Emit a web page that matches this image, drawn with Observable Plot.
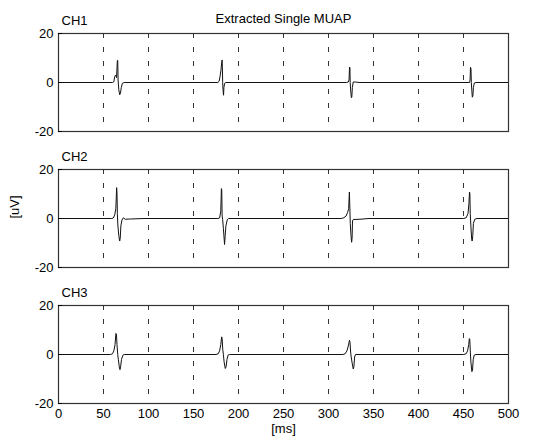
<!DOCTYPE html>
<html><head><meta charset="utf-8">
<script src="https://cdn.jsdelivr.net/npm/d3@7"></script>
<script src="https://cdn.jsdelivr.net/npm/@observablehq/plot@0.6"></script>
<style>body{margin:0;background:#fff}</style>
</head><body><div id="chart"></div>
<script>
const titleText = "Extracted Single MUAP";
const xLabel = "[ms]";
const yLabel = "[uV]";
const channels = ["CH1", "CH2", "CH3"];
const xTicks = [0, 50, 100, 150, 200, 250, 300, 350, 400, 450, 500];
const gridX = [50, 100, 150, 200, 250, 300, 350, 400, 450];
const yTicks = [-20, 0, 20];

// [time ms, amplitude uV]
const ch1 = [[0,0],[60,0],[61.5,0.3],[62.5,2.5],[63.5,3],[64.5,2],[65.4,9],[65.8,9],[66.2,1],[67,-3],[68,-5],[68.8,-4.5],[69.8,-2],[71,-0.3],[73,0],
  [177,0],[178.5,0.5],[179.5,2.5],[180.5,5],[181.3,8],[181.8,9.2],[182.1,6],[182.4,0],[182.8,-3],[183.4,-5.2],[183.8,-2],[184.6,-0.3],[186,0],
  [320,0],[322,0.2],[322.8,1],[323.4,6.3],[323.8,6],[324.1,0],[324.6,-3],[325.4,-6.2],[325.9,-6],[326.5,-2],[327.5,0.2],[330,0.2],[334,0],
  [455,0],[456.8,0],[457.3,1],[457.8,6.2],[458.3,5.5],[458.7,0],[459.2,-3],[459.8,-6],[460.4,-5.5],[461,-2],[462,-0.2],[464,0],[500,0]];
const ch2 = [[0,0],[59,0],[61,0.2],[62.5,1.5],[63.7,4],[64.6,12.6],[65,10],[65.4,2],[66,-3],[67,-7],[68,-9.2],[68.6,-8],[69.3,-3],[70.5,-0.6],[72,0.3],[74,-0.3],[80,-0.2],[95,0],
  [177,0],[179,0.2],[180.3,3],[181,12.2],[181.4,11.5],[181.8,1],[182.4,-0.5],[183.2,-4],[184.5,-10.6],[185.2,-7],[186,-3],[187.5,-0.5],[189,0],
  [314,0],[317,0.3],[319.5,1],[321.2,2.5],[322.4,4],[323.2,10.8],[323.6,6],[324.2,-2],[325,-7],[325.7,-9.7],[326.2,-8],[326.7,-1],[327.5,-0.4],[335,-0.3],[345,0],
  [450,0],[453,0.3],[455,2],[456,6],[456.7,10.8],[457.1,10],[457.5,2],[458.2,-3],[459,-8],[459.6,-9.2],[460.3,-7],[461,-2],[462.5,-0.3],[465,0],[500,0]];
const ch3 = [[0,0],[58,0],[60,0.3],[61.5,1.5],[62.8,4],[63.8,8.6],[64.4,8.2],[65,4],[65.8,0],[66.5,-2],[67.5,-5],[68.3,-6.2],[69,-5],[70,-2],[71.5,-0.3],[73,0],
  [175,0],[177.5,0.3],[179,1.5],[180.3,4],[181.3,7.2],[181.8,6.5],[182.5,2],[183.2,0],[184,-3],[185.3,-5.7],[186.2,-5],[187.2,-2],[188.5,-0.2],[190,0],
  [316,0],[318.5,0.3],[320.5,1.5],[322,3.5],[323.3,5.8],[323.9,5],[324.6,1],[325.2,-1],[326.3,-3.5],[327.5,-5.9],[328.2,-5],[329,-1],[330,0],
  [450,0],[453,0.3],[454.5,1.5],[455.8,4],[456.5,6.5],[457,6],[457.6,1],[458.2,-3],[459.3,-7],[460,-6.5],[460.8,-2],[462,-0.2],[464,0],[500,0]];

const series = [ch1, ch2, ch3];
const data = channels.flatMap((ch, i) => series[i].map(([t, v]) => ({ch, t, v})));

const font = "'Liberation Sans', Arial, Helvetica, sans-serif";
const fmt = d => String(d);
const chart = Plot.plot({
  width: 541,
  height: 441,
  marginLeft: 58,
  marginRight: 33,
  marginTop: 33,
  marginBottom: 38,
  style: {fontFamily: font, fontSize: "13px", color: "#000", background: "#fff", overflow: "visible"},
  x: {domain: [0, 500], label: null},
  y: {domain: [-20, 20], label: null},
  fy: {domain: channels, paddingInner: 0.28, paddingOuter: 0, axis: null, label: null},
  marks: [
    Plot.ruleX(gridX, {stroke: "#000", strokeWidth: 0.8, strokeDasharray: "5,9"}),
    Plot.line(data, {x: "t", y: "v", fy: "ch", stroke: "#111", strokeWidth: 1}),
    Plot.frame({stroke: "#333", strokeWidth: 1.2}),
    Plot.axisY({ticks: yTicks, tickFormat: fmt, tickSize: -4, tickPadding: 9, fontSize: 13, label: null}),
    Plot.axisX({ticks: xTicks, tickFormat: fmt, tickSize: 0, tickPadding: 5, fontSize: 13, label: null}),
    Plot.text(channels, {fy: d => d, text: d => d, frameAnchor: "top-left", textAnchor: "start", dx: 3, dy: -18, fontSize: 13}),
    Plot.text([titleText], {facet: "super", frameAnchor: "top", dy: -20, fontSize: 13}),
    Plot.text([xLabel], {facet: "super", frameAnchor: "bottom", dy: 29, fontSize: 13}),
    Plot.text([yLabel], {facet: "super", frameAnchor: "left", dx: -44, rotate: -90, fontSize: 13})
  ]
});
document.getElementById("chart").appendChild(chart);
</script>
</body></html>
